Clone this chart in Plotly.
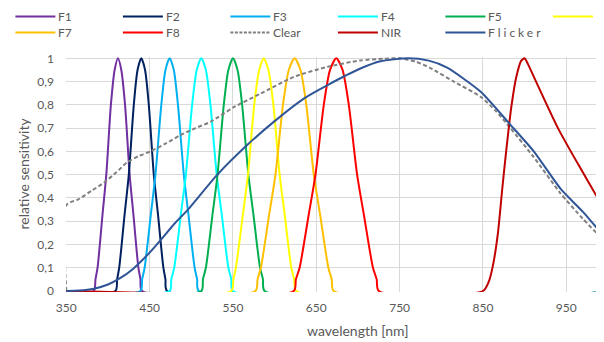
import plotly.graph_objects as go

# ---------------- data ----------------
FILTER_LEVELS = [0, 0.05, 0.1, 0.33, 0.5, 0.8, 0.95, 1, 0.95, 0.8, 0.5, 0.33, 0.1, 0.05, 0]

F1_X = [383, 385, 387.5, 393.5, 398, 403.5, 408, 412, 416, 420.5, 426, 430.5, 436.5, 439, 441]
F2_X = [409, 411, 413.5, 420, 425, 431, 435.5, 440, 444.5, 449, 455, 460, 466.5, 469, 471]
F3_X = [439, 441, 444, 451.5, 457, 464, 469, 474, 479, 484, 491, 496.5, 504, 507, 509]
F4_X = [474, 476, 479.5, 487.5, 493.5, 501, 506.5, 512, 517.5, 523, 530.5, 536.5, 544.5, 548, 550]
F5_X = [512, 514, 517.5, 525.5, 531.5, 539, 544.5, 550, 555.5, 561, 568.5, 574.5, 582.5, 586, 588]
F6_X = [548, 550.5, 553.5, 562, 568, 575.5, 581.5, 587, 592.5, 598.5, 606, 612, 620, 623.5, 626]
F7_X = [577, 579.5, 583.5, 593.5, 601, 610, 617, 624, 631, 638, 647, 654.5, 664.5, 668.5, 671]
F8_X = [623, 625.5, 630, 641, 649, 659, 666.5, 674, 681.5, 689, 699, 707, 718, 722.5, 725]

CLEAR_X = [350, 350, 365, 380, 395, 410, 423, 437, 451, 470, 487, 505, 523, 551, 583, 623, 663, 703, 730,
           750, 770, 787, 815, 847, 865, 883, 911, 943, 970, 996, 1050]
CLEAR_Y = [0, 0.369, 0.395, 0.43, 0.465, 0.51, 0.553, 0.58, 0.6, 0.635, 0.67, 0.7, 0.727, 0.79, 0.848, 0.92, 0.963, 0.991, 0.998,
           1.0, 0.985, 0.958, 0.9, 0.835, 0.775, 0.70, 0.575, 0.42, 0.31, 0.215, 0.05]

NIR_X = [350, 850, 857, 862, 868, 873, 878, 884, 890, 896, 900, 904, 915, 940, 965, 996, 1050]
NIR_Y = [0, 0, 0.04, 0.11, 0.25, 0.433, 0.605, 0.79, 0.92, 0.99, 1.0, 0.975, 0.89, 0.70, 0.54, 0.35, 0.05]

FLICKER_X = [350, 365, 383, 400, 415, 430, 450, 463, 480, 496, 530, 567, 600, 635, 663, 703, 727, 760,
             785, 807, 847, 883, 911, 943, 970, 996, 1050]
FLICKER_Y = [0, 0.002, 0.01, 0.028, 0.056, 0.095, 0.165, 0.218, 0.29, 0.35, 0.495, 0.627, 0.73, 0.827, 0.884, 0.956, 0.987, 1.0,
             0.99, 0.96, 0.857, 0.714, 0.6, 0.44, 0.34, 0.235, 0.07]

X_RANGE_LO, X_RANGE_HI = 350, 1050
X_TICKS = [350, 450, 550, 650, 750, 850, 950]
Y_TICKS = [0, 0.1, 0.2, 0.3, 0.4, 0.5, 0.6, 0.7, 0.8, 0.9, 1]
Y_TICK_TEXT = ["0", "0,1", "0,2", "0,3", "0,4", "0,5", "0,6", "0,7", "0,8", "0,9", "1"]

NAMES = ["F1", "F2", "F3", "F4", "F5", "F6", "F7", "F8", "Clear", "NIR", "Flicker"]
COLORS = ["#7030a0", "#002060", "#00b0f0", "#00ffff", "#00b050", "#ffff00", "#ffc000", "#ff0000",
          "#7f7f7f", "#c00000", "#2f5597"]

# ---------------- figure ----------------
OFF = 8  # default page margin of the html body
W, H = 604 - OFF, 342 - OFF
ML, MR, MT, MB = 58, 0, 49, 50
PW, PH = W - ML - MR, H - MT - MB

fig = go.Figure()

filters = [F1_X, F2_X, F3_X, F4_X, F5_X, F6_X, F7_X, F8_X]
for i, fx in enumerate(filters):
    xs = [X_RANGE_LO] + fx + [X_RANGE_HI]
    ys = [0] + FILTER_LEVELS + [0]
    fig.add_trace(go.Scatter(x=xs, y=ys, mode="lines", name=NAMES[i],
                             line=dict(color=COLORS[i], width=2, shape="spline", smoothing=0.7)))

fig.add_trace(go.Scatter(x=CLEAR_X, y=CLEAR_Y, mode="lines", name="Clear",
                         line=dict(color=COLORS[8], width=2, dash="4px,2.5px", shape="spline", smoothing=0.6)))
fig.add_trace(go.Scatter(x=NIR_X, y=NIR_Y, mode="lines", name="NIR",
                         line=dict(color=COLORS[9], width=2, shape="spline", smoothing=0.6)))
fig.add_trace(go.Scatter(x=FLICKER_X, y=FLICKER_Y, mode="lines", name="Flicker",
                         line=dict(color=COLORS[10], width=2, shape="spline", smoothing=0.6)))

GRID = "#d9d9d9"
TXT = "#595959"
FONT = "Lato"

x_scale = 0.8333  # px per nm
x0 = 350 - 0.3 / x_scale
x1 = x0 + PW / x_scale
span = 1 / (1 - 2.3 / PH)
y0 = -1.0 / PH * span
y1 = y0 + span

fig.update_xaxes(range=[x0, x1], tickvals=X_TICKS, showgrid=True, gridcolor=GRID, gridwidth=1,
                 zeroline=False, showline=False, ticks="", ticklabelstandoff=7,
                 tickfont=dict(family=FONT, size=12, color=TXT))
fig.update_yaxes(range=[y0, y1], tickvals=Y_TICKS, ticktext=Y_TICK_TEXT, showgrid=True, gridcolor=GRID,
                 gridwidth=1, zeroline=False, showline=False, ticks="", ticklabelstandoff=11,
                 tickfont=dict(family=FONT, size=12, color=TXT))


def px_x(p):
    return (p - OFF - ML) / PW


def px_y(p):
    return (H - MB - (p - OFF)) / PH


shapes = []
annotations = []
for i, name in enumerate(NAMES):
    row, col = divmod(i, 6)
    lx = 15.4 + col * 107.5
    ly = 16.5 if row == 0 else 32.5
    shapes.append(dict(type="line", xref="paper", yref="paper",
                       x0=px_x(lx), x1=px_x(lx + 40), y0=px_y(ly), y1=px_y(ly),
                       line=dict(color=COLORS[i], width=2,
                                 dash="3px,1.5px" if name == "Clear" else "solid")))
    label = name if name != "Flicker" else "<span style='letter-spacing:3px'>Flicker</span>"
    annotations.append(dict(xref="paper", yref="paper", x=px_x(lx + 41), y=px_y(ly),
                            xanchor="left", yanchor="middle", text=label, showarrow=False,
                            font=dict(family=FONT, size=12, color=TXT)))

annotations.append(dict(xref="x", yref="paper", x=700, y=px_y(330), xanchor="center", yanchor="middle",
                        text="wavelength [nm]", showarrow=False,
                        font=dict(family=FONT, size=14, color=TXT)))
annotations.append(dict(xref="paper", yref="paper", x=px_x(22.5), y=px_y(174), xanchor="center",
                        yanchor="middle", text="relative sensitivity", textangle=-90, showarrow=False,
                        font=dict(family=FONT, size=14, color=TXT)))

fig.update_layout(width=W, height=H, margin=dict(l=ML, r=MR, t=MT, b=MB),
                  paper_bgcolor="white", plot_bgcolor="white", showlegend=False,
                  shapes=shapes, annotations=annotations,
                  font=dict(family=FONT, color=TXT))

fig.write_html("out.html")
